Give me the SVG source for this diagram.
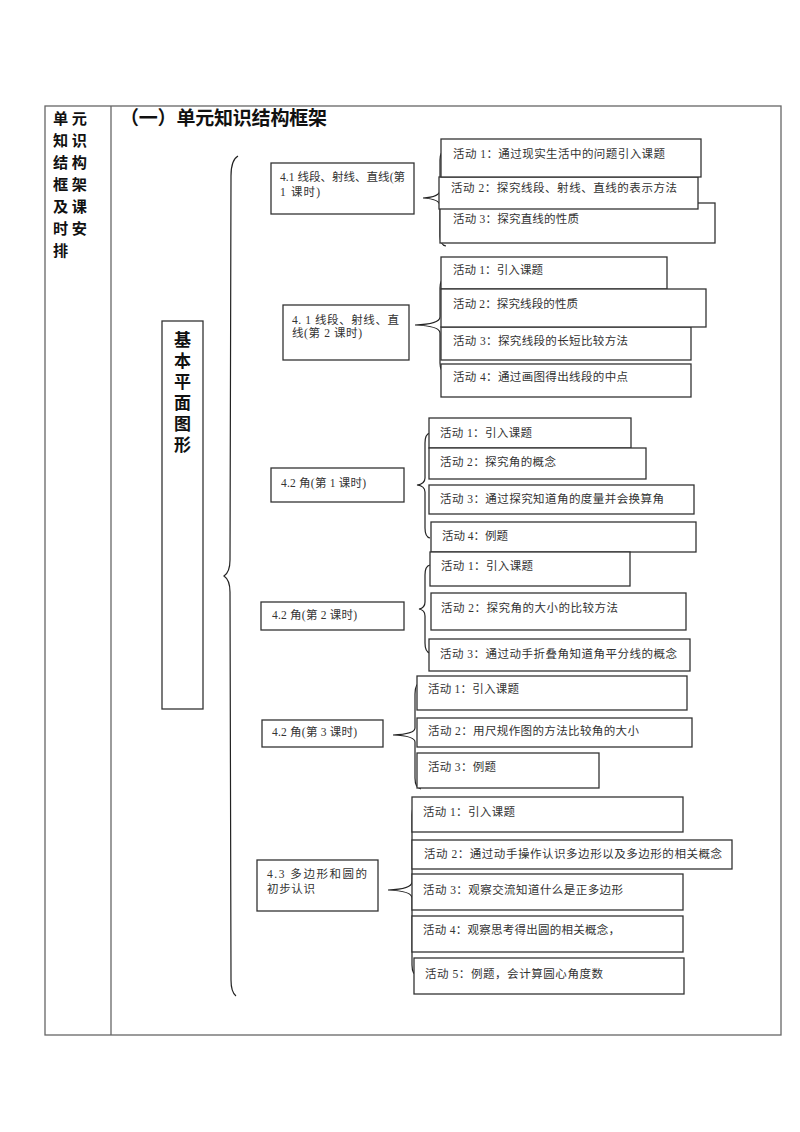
<svg xmlns="http://www.w3.org/2000/svg" width="800" height="1132" viewBox="0 0 800 1132">
<style>
.frame{fill:none;stroke:#666;stroke-width:1.3}
.box{fill:#fff;stroke:#333;stroke-width:1.3}
.brace{fill:none;stroke:#222;stroke-width:1.2}
.t{font-family:"Liberation Serif","Noto Sans CJK SC",serif;font-size:11.5px;fill:#333}
.h{font-family:"Noto Sans CJK SC","Liberation Sans",sans-serif;font-weight:bold;fill:#111}
.hd{font-size:15.2px;letter-spacing:3.5px}
</style>
<rect width="800" height="1132" fill="#fff"/>
<g id="table">
<rect class="frame" x="45" y="106" width="736" height="929"/>
<line class="frame" x1="111" y1="106" x2="111" y2="1035"/>
</g>
<g id="header" class="h hd">
<text x="53" y="124">单元</text>
<text x="53" y="146">知识</text>
<text x="53" y="168">结构</text>
<text x="53" y="190">框架</text>
<text x="53" y="212">及课</text>
<text x="53" y="234">时安</text>
<text x="53" y="256">排</text>
</g>
<g id="title"><text class="h" font-size="19" x="120" y="125" textLength="207" lengthAdjust="spacing">（一）单元知识结构框架</text></g>
<g id="connectors">
<path class="brace" d="M238,156 Q231,160 231,176 L230,560 Q230,572 224,576 Q230,580 230,592 L231,980 Q231,992 236,996"/>
<path class="brace" d="M446,150 Q440,151 440,160 L440,190 Q440,197 423,198 Q440,199 440,206 L440,236 Q440,245 446,246"/>
<path class="brace" d="M446,278 Q440,279 440,288 L440,317 Q440,324 415,325 Q440,326 440,333 L440,363 Q440,372 446,373"/>
<path class="brace" d="M430,433 Q425,434 425,443 L425,478 Q425,484 417,485 Q425,486 425,492 L425,528 Q425,537 430,538"/>
<path class="brace" d="M430,565 Q425,566 425,575 L425,602 Q425,608 419,609 Q425,610 425,616 L425,643 Q425,652 430,653"/>
<path class="brace" d="M421,682 Q415,683 415,694 L415,728 Q415,734 393,735 Q415,736 415,742 L415,778 Q415,788 421,789"/>
<path class="brace" d="M418,803 Q412,804 412,815 L412,882 Q412,889 388,890 Q412,891 412,898 L412,965 Q412,975 418,976"/>
</g>
<g id="topic">
<rect class="box" x="162" y="321" width="41" height="388"/>
<text class="h" font-size="17" x="182.5" y="331" writing-mode="vertical-rl" letter-spacing="4">基本平面图形</text>
</g>
<g id="lesson1">
<rect class="box" x="271" y="163" width="143" height="51"/>
<text class="t" x="280" y="181" textLength="125" lengthAdjust="spacing">4.1 线段、射线、直线(第</text>
<text class="t" x="280" y="196" textLength="40" lengthAdjust="spacing">1 课时)</text>
</g>
<g id="l1a3"><rect class="box" x="440" y="203" width="275" height="40"/><text class="t" x="453" y="223" textLength="126" lengthAdjust="spacing">活动 3：探究直线的性质</text></g>
<g id="l1a2"><rect class="box" x="439" y="177" width="259" height="32"/><text class="t" x="451" y="192" textLength="226" lengthAdjust="spacing">活动 2：探究线段、射线、直线的表示方法</text></g>
<g id="l1a1"><rect class="box" x="441" y="139" width="260" height="38"/><text class="t" x="453" y="158" textLength="212" lengthAdjust="spacing">活动 1：通过现实生活中的问题引入课题</text></g>
<g id="lesson2">
<rect class="box" x="283" y="305" width="126" height="55"/>
<text class="t" x="292" y="324" textLength="107" lengthAdjust="spacing">4. 1 线段、射线、直</text>
<text class="t" x="292" y="337" textLength="70" lengthAdjust="spacing">线(第 2 课时)</text>
</g>
<g id="l2a1"><rect class="box" x="441" y="257" width="226" height="32"/><text class="t" x="453" y="274" textLength="90" lengthAdjust="spacing">活动 1：引入课题</text></g>
<g id="l2a3"><rect class="box" x="441" y="327" width="250" height="33"/><text class="t" x="453" y="345" textLength="175" lengthAdjust="spacing">活动 3：探究线段的长短比较方法</text></g>
<g id="l2a2"><rect class="box" x="441" y="289" width="265" height="38"/><text class="t" x="453" y="308" textLength="125" lengthAdjust="spacing">活动 2：探究线段的性质</text></g>
<g id="l2a4"><rect class="box" x="441" y="364" width="250" height="33"/><text class="t" x="453" y="381" textLength="175" lengthAdjust="spacing">活动 4：通过画图得出线段的中点</text></g>
<g id="lesson3">
<rect class="box" x="271" y="468" width="133" height="34"/>
<text class="t" x="281" y="487" textLength="85" lengthAdjust="spacing">4.2 角(第 1 课时)</text>
</g>
<g id="l3a1"><rect class="box" x="429" y="418" width="202" height="30"/><text class="t" x="440" y="437" textLength="92" lengthAdjust="spacing">活动 1：引入课题</text></g>
<g id="l3a2"><rect class="box" x="429" y="448" width="217" height="31"/><text class="t" x="440" y="466" textLength="116" lengthAdjust="spacing">活动 2：探究角的概念</text></g>
<g id="l3a3"><rect class="box" x="429" y="485" width="265" height="29"/><text class="t" x="440" y="503" textLength="224" lengthAdjust="spacing">活动 3：通过探究知道角的度量并会换算角</text></g>
<g id="l3a4"><rect class="box" x="431" y="522" width="265" height="30"/><text class="t" x="442" y="540" textLength="66" lengthAdjust="spacing">活动 4：例题</text></g>
<g id="lesson4">
<rect class="box" x="261" y="602" width="143" height="28"/>
<text class="t" x="272" y="619" textLength="85" lengthAdjust="spacing">4.2 角(第 2 课时)</text>
</g>
<g id="l4a1"><rect class="box" x="430" y="552" width="200" height="34"/><text class="t" x="441" y="570" textLength="92" lengthAdjust="spacing">活动 1：引入课题</text></g>
<g id="l4a2"><rect class="box" x="431" y="593" width="255" height="37"/><text class="t" x="441" y="612" textLength="177" lengthAdjust="spacing">活动 2：探究角的大小的比较方法</text></g>
<g id="l4a3"><rect class="box" x="429" y="639" width="261" height="32"/><text class="t" x="440" y="658" textLength="237" lengthAdjust="spacing">活动 3：通过动手折叠角知道角平分线的概念</text></g>
<g id="lesson5">
<rect class="box" x="262" y="720" width="121" height="27"/>
<text class="t" x="272" y="736" textLength="85" lengthAdjust="spacing">4.2 角(第 3 课时)</text>
</g>
<g id="l5a1"><rect class="box" x="417" y="676" width="270" height="34"/><text class="t" x="428" y="693" textLength="91" lengthAdjust="spacing">活动 1：引入课题</text></g>
<g id="l5a2"><rect class="box" x="417" y="718" width="275" height="29"/><text class="t" x="428" y="735" textLength="211" lengthAdjust="spacing">活动 2：用尺规作图的方法比较角的大小</text></g>
<g id="l5a3"><rect class="box" x="417" y="753" width="182" height="35"/><text class="t" x="428" y="771" textLength="68" lengthAdjust="spacing">活动 3：例题</text></g>
<g id="lesson6">
<rect class="box" x="257" y="860" width="121" height="51"/>
<text class="t" x="267" y="878" textLength="100" lengthAdjust="spacing">4.3 多边形和圆的</text>
<text class="t" x="267" y="893" textLength="48" lengthAdjust="spacing">初步认识</text>
</g>
<g id="l6a1"><rect class="box" x="412" y="797" width="271" height="35"/><text class="t" x="423" y="816" textLength="92" lengthAdjust="spacing">活动 1：引入课题</text></g>
<g id="l6a2"><rect class="box" x="412" y="840" width="320" height="29"/><text class="t" x="424" y="858" textLength="298" lengthAdjust="spacing">活动 2：通过动手操作认识多边形以及多边形的相关概念</text></g>
<g id="l6a3"><rect class="box" x="412" y="874" width="271" height="36"/><text class="t" x="423" y="894" textLength="200" lengthAdjust="spacing">活动 3：观察交流知道什么是正多边形</text></g>
<g id="l6a4"><rect class="box" x="412" y="916" width="271" height="36"/><text class="t" x="423" y="934" textLength="197" lengthAdjust="spacing">活动 4：观察思考得出圆的相关概念，</text></g>
<g id="l6a5"><rect class="box" x="414" y="958" width="270" height="36"/><text class="t" x="425" y="978" textLength="178" lengthAdjust="spacing">活动 5：例题，会计算圆心角度数</text></g>
</svg>
